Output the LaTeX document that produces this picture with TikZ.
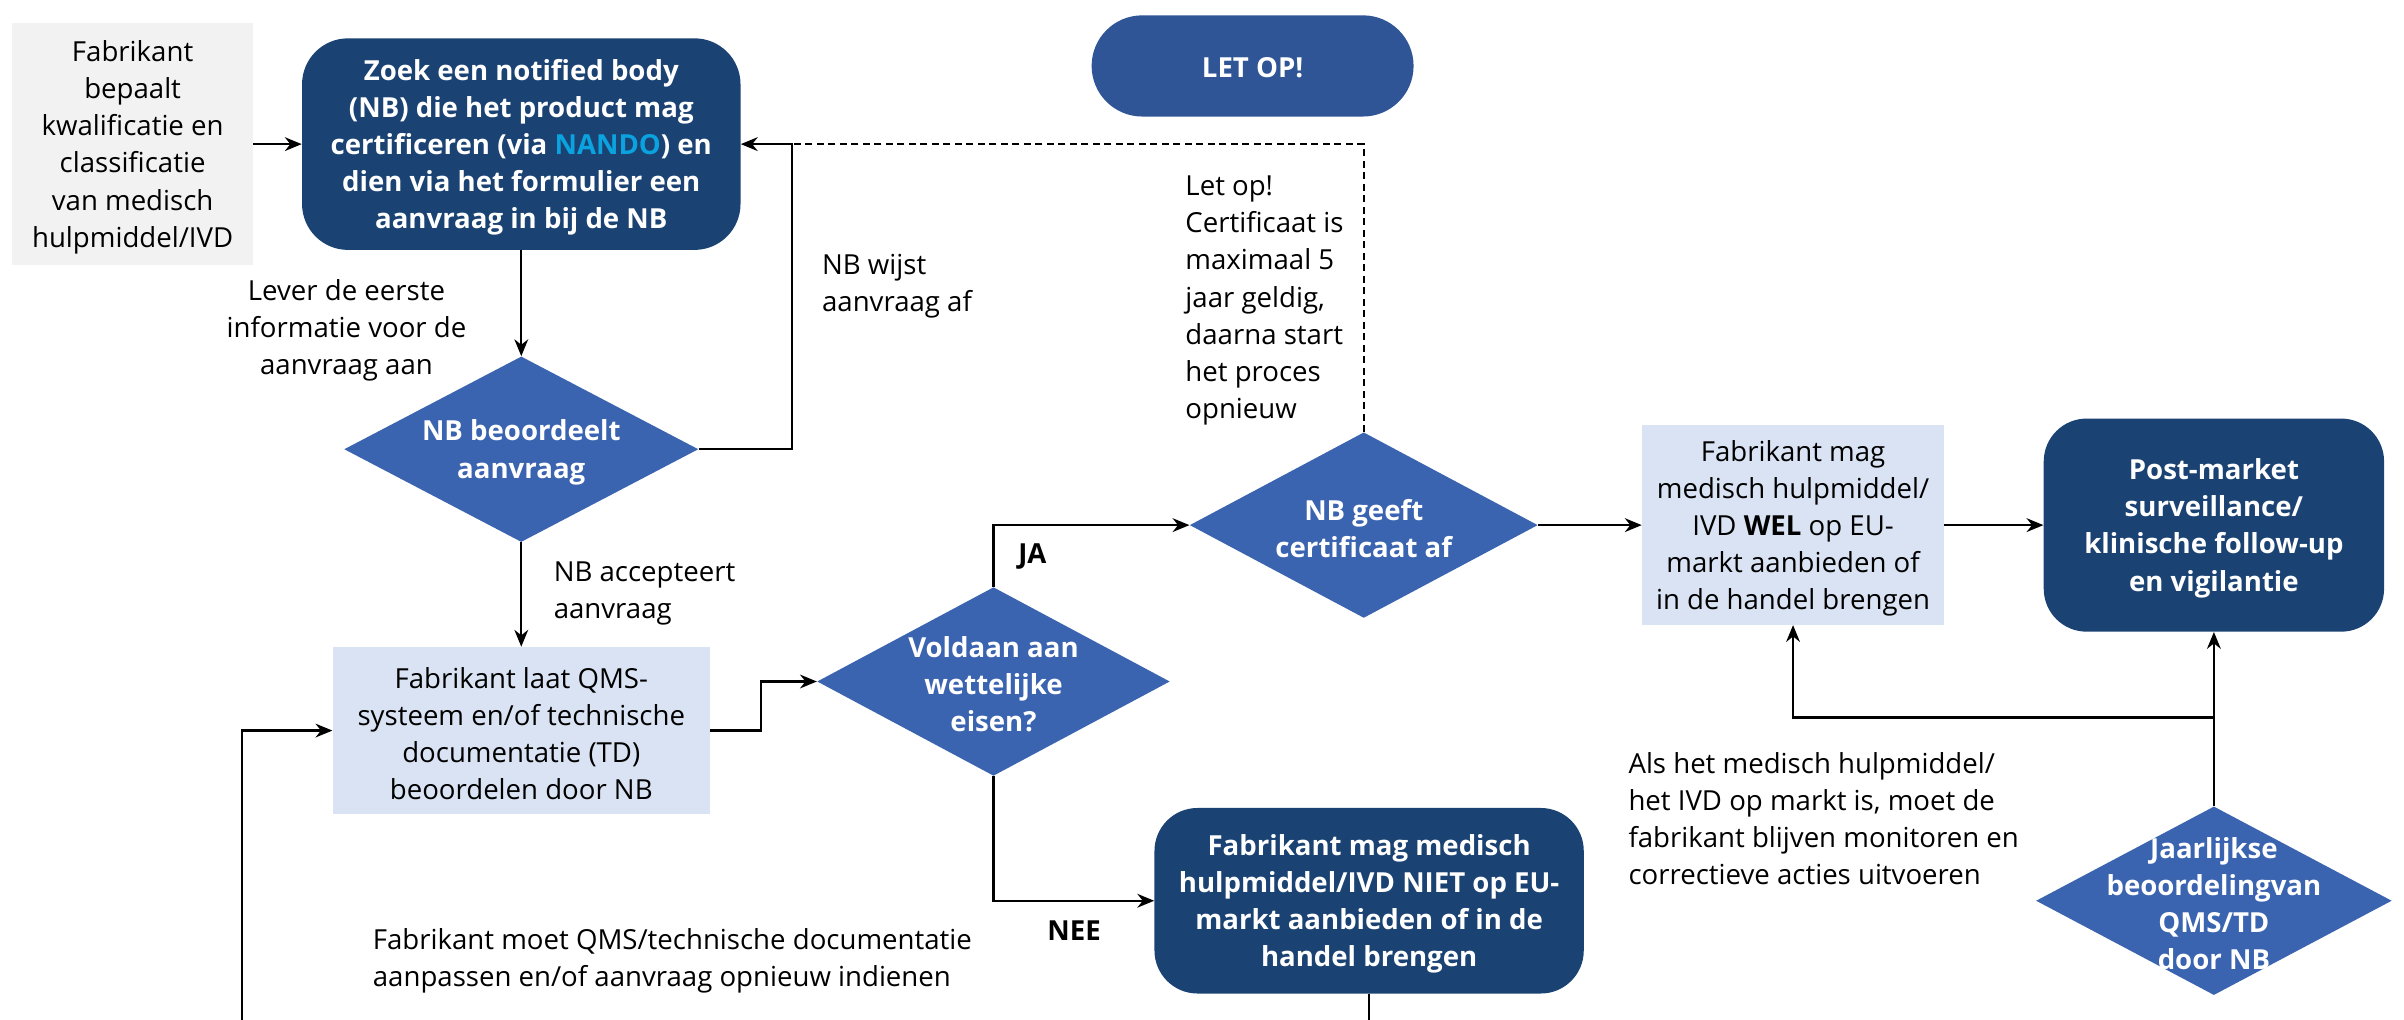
\documentclass[tikz,border=0pt]{standalone}
\usepackage{fontspec}
\setmainfont{Open Sans}
\usetikzlibrary{shapes.geometric,arrows.meta}
\definecolor{navyc}{HTML}{1A4273}
\definecolor{midblue}{HTML}{3A63B0}
\definecolor{pillblue}{HTML}{2F5597}
\definecolor{lightblue}{HTML}{DAE3F3}
\definecolor{lightgrey}{HTML}{F1F2F1}
\definecolor{nando}{HTML}{0AA3E0}
\newcommand{\fs}{\fontsize{18}{24.2}\selectfont}
\begin{document}
\begin{tikzpicture}[x=1pt,y=-1pt,
  every node/.style={font=\fs, inner sep=0pt},
  greybox/.style={fill=lightgrey},
  navybox/.style={fill=navyc, rounded corners=30pt},
  pill/.style={fill=pillblue, rounded corners=33pt},
  lightbox/.style={fill=lightblue},
  dia/.style={diamond, fill=midblue},
  btext/.style={text=black, align=center, yshift=-2pt},
  wtext/.style={text=white, font=\fs\bfseries, align=center, yshift=-2pt},
  lbl/.style={align=left, anchor=west, yshift=-2pt},
  boldlbl/.style={font=\fs\bfseries, anchor=west, yshift=-1pt},
  plain/.style={line width=1.4pt},
  conn/.style={line width=1.4pt, -{Stealth[length=11pt,width=9pt]}},
  dashline/.style={line width=1.4pt, dash pattern=on 4.5pt off 3pt}
]
\useasboundingbox (0,0) rectangle (1568,665);

% shapes
\node[greybox, minimum width=157pt, minimum height=158pt] (fab) at (86.5,94) {};
\node[btext] (fabt) at (fab) {Fabrikant\\bepaalt\\kwalificatie en\\classificatie\\van medisch\\hulpmiddel/IVD};

\node[navybox, minimum width=286pt, minimum height=138pt] (zoek) at (340,94) {};
\node[wtext] (zoekt) at (zoek) {Zoek een notified body\\(NB) die het product mag\\certificeren (via \textcolor{nando}{NANDO}) en\\dien via het formulier een\\aanvraag in bij de NB};

\node[pill, minimum width=210pt, minimum height=66pt] (letop) at (817,43) {};
\node[wtext, yshift=1pt] (letopt) at (letop) {LET OP!};

\node[dia, minimum width=231pt, minimum height=121pt] (d1) at (340,293) {};
\node[wtext] (d1t) at (d1) {NB beoordeelt\\aanvraag};

\node[lightbox, minimum width=246pt, minimum height=109pt] (qms) at (340,476.5) {};
\node[btext] (qmst) at (qms) {Fabrikant laat QMS-\\systeem en/of technische\\documentatie (TD)\\beoordelen door NB};

\node[dia, minimum width=230pt, minimum height=123pt] (d2) at (648,444.5) {};
\node[wtext] (d2t) at (d2) {Voldaan aan\\wettelijke\\eisen?};

\node[dia, minimum width=227pt, minimum height=121pt] (d3) at (889.5,342.5) {};
\node[wtext] (d3t) at (d3) {NB geeft\\certificaat af};

\node[navybox, rounded corners=28pt, minimum width=280pt, minimum height=121pt] (niet) at (893,587.5) {};
\node[wtext] (nietT) at (niet) {Fabrikant mag medisch\\hulpmiddel/IVD NIET op EU-\\markt aanbieden of in de\\handel brengen};

\node[lightbox, minimum width=197pt, minimum height=130pt] (wel) at (1169.5,342.5) {};
\node[btext] (welt) at (wel) {Fabrikant mag\\medisch hulpmiddel/\\IVD \textbf{WEL} op EU-\\markt aanbieden of\\in de handel brengen};

\node[navybox, rounded corners=28pt, minimum width=222pt, minimum height=139pt] (post) at (1444,342.5) {};
\node[wtext] (postt) at (post) {Post-market\\surveillance/\\klinische follow-up\\en vigilantie};

\node[dia, minimum width=232pt, minimum height=123pt] (d4) at (1444,587.5) {};
\node[wtext] (d4t) at (d4) {Jaarlijkse\\beoordelingvan\\QMS/TD\\door NB};

% labels
\node[align=center, yshift=-2pt] (l1) at (226,213.7) {Lever de eerste\\informatie voor de\\aanvraag aan};
\node[lbl] (l2) at (536,184.5) {NB wijst\\aanvraag af};
\node[lbl] (l3) at (773,194) {Let op!\\Certificaat is\\maximaal 5\\jaar geldig,\\daarna start\\het proces\\opnieuw};
\node[lbl] (l4) at (361,385) {NB accepteert\\aanvraag};
\node[boldlbl] (ja) at (664,362) {JA};
\node[boldlbl] (nee) at (683,606) {NEE};
\node[lbl] (l5) at (243,624.5) {Fabrikant moet QMS/technische documentatie\\aanpassen en/of aanvraag opnieuw indienen};
\node[lbl] (l6) at (1062,532) {Als het medisch hulpmiddel/\\het IVD op markt is, moet de\\fabrikant blijven monitoren en\\correctieve acties uitvoeren};

% helper coordinates
\coordinate (junc) at (516,94);
\coordinate (loopstart) at (158,668);
\coordinate (nietend) at (893,668);
\coordinate (br) at (1444,468);

% connectors
\draw[conn] (fab.east) -- (zoek.west);
\draw[conn] (zoek.south) -- (d1.north);
\draw[dashline] (d3.north) |- (junc);
\draw[conn] (d1.east) -- ++(61,0) |- (zoek.east);
\draw[conn] (d1.south) -- (qms.north);
\draw[conn] (qms.east) -- ++(33,0) |- (d2.west);
\draw[conn] (d2.north) |- (d3.west);
\draw[conn] (d2.south) |- (niet.west);
\draw[conn] (d3.east) -- (wel.west);
\draw[conn] (wel.east) -- (post.west);
\draw[conn] (d4.north) -- (post.south);
\draw[conn] (br) -| (wel.south);
\draw[plain] (niet.south) -- (nietend);
\draw[conn] (loopstart) |- (qms.west);
\end{tikzpicture}
\end{document}
